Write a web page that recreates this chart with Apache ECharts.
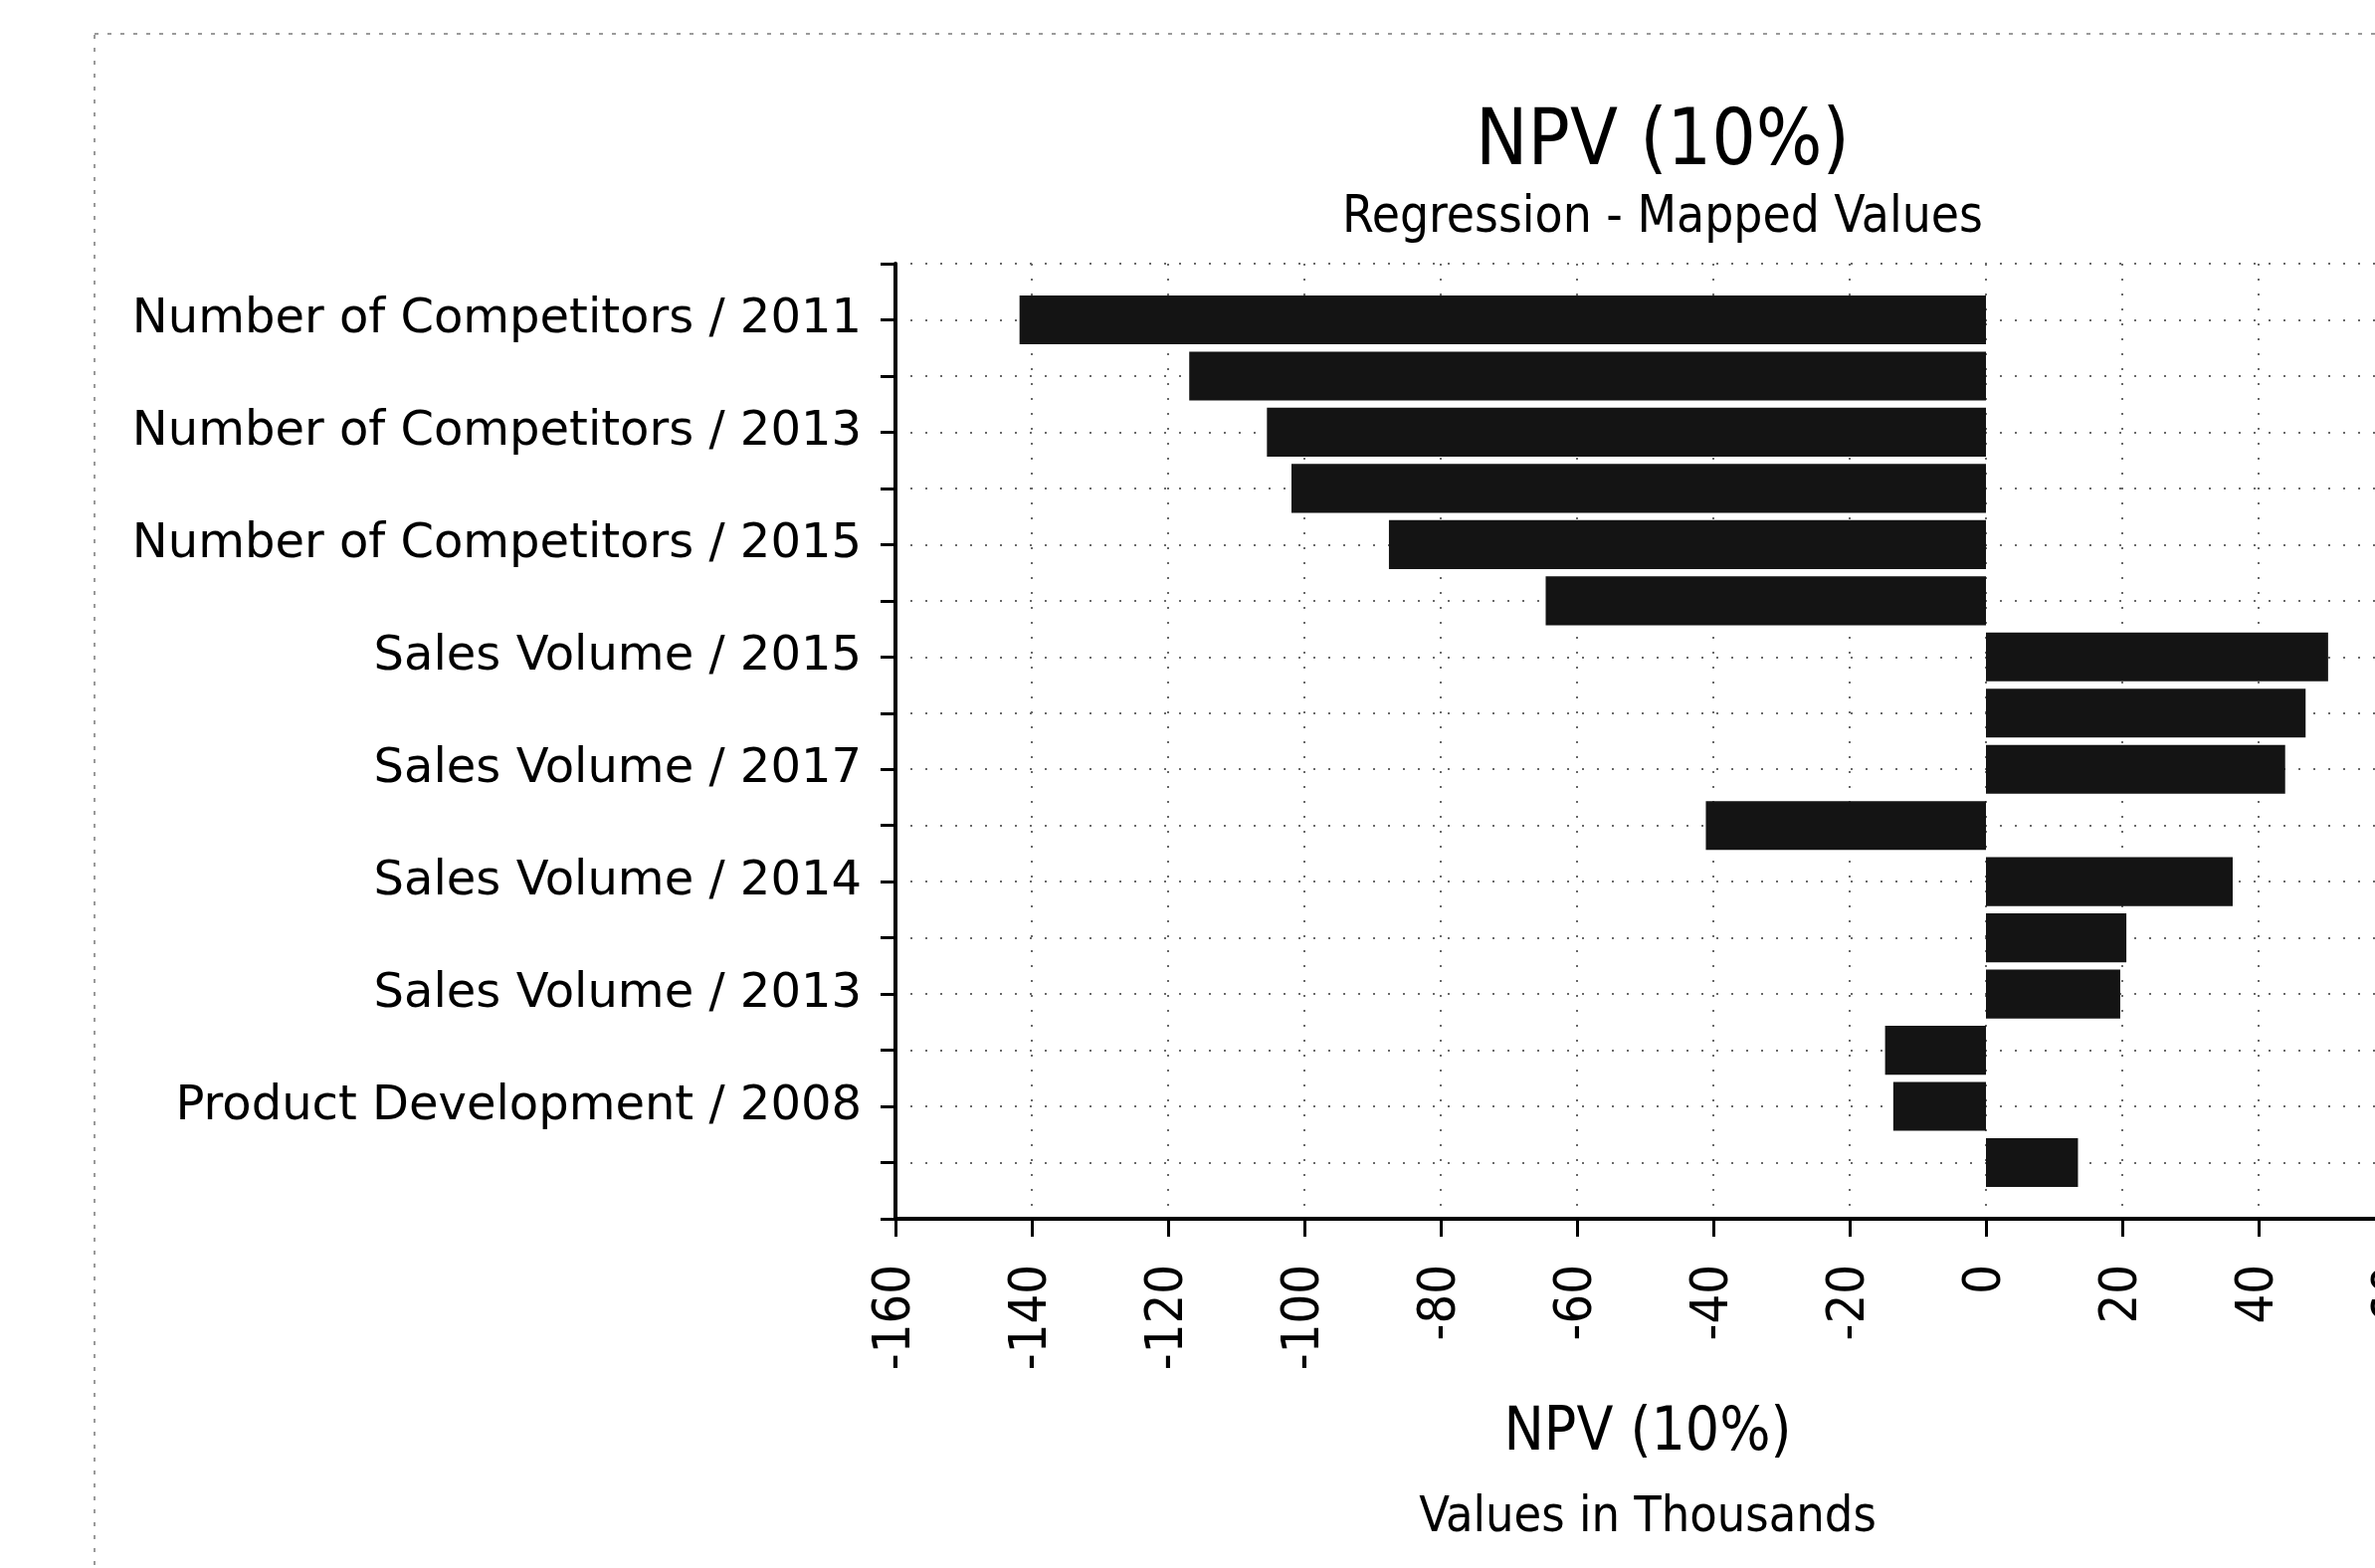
<!DOCTYPE html>
<html>
<head>
<meta charset="utf-8">
<style>
  html, body { margin: 0; padding: 0; background: #ffffff; }
  #chart { width: 2387px; height: 1576px; }
</style>
<script src="https://cdn.jsdelivr.net/npm/echarts@6/dist/echarts.min.js"></script>
</head>
<body>
<div id="chart"></div>
<script>
// ---- data (top to bottom) ----
const categories = [
  'Number of Competitors / 2011',
  'Number of Competitors / 2012',
  'Number of Competitors / 2013',
  'Number of Competitors / 2014',
  'Number of Competitors / 2015',
  'Number of Competitors / 2016',
  'Sales Volume / 2015',
  'Sales Volume / 2016',
  'Sales Volume / 2017',
  'Number of Competitors / 2017',
  'Sales Volume / 2014',
  'Sales Volume / 2012',
  'Sales Volume / 2013',
  'Product Development / 2007',
  'Product Development / 2008',
  'Sales Volume / 2011'
];
const npvValues = [-141.8, -116.9, -105.5, -101.9, -87.6, -64.6, 50.2, 46.9, 43.9, -41.1, 36.2, 20.6, 19.7, -14.8, -13.6, 13.5];
const xTicks = { min: -160, max: 60, interval: 20 };
const titleText = 'NPV (10%)';
const subtitleText = 'Regression - Mapped Values';
const axisTitle = 'NPV (10%)';
const axisSubtitle = 'Values in Thousands';

// padded category axis (one empty slot at each end of the axis)
const axisCats = [' '].concat(categories, ['  ']);
const axisData = [null].concat(npvValues, [null]);

const condensed = '"DejaVu Sans Condensed", "Liberation Sans Narrow", "DejaVu Sans", sans-serif';

const chart = echarts.init(document.getElementById('chart'), null, { renderer: 'canvas' });
chart.setOption({
  backgroundColor: '#ffffff',
  animation: false,
  title: [
    {
      text: titleText,
      subtext: subtitleText,
      left: 1666,
      top: 95,
      textAlign: 'center',
      itemGap: 2,
      textStyle: { fontFamily: condensed, fontSize: 78, fontWeight: 'normal', color: '#000', lineHeight: 90 },
      subtextStyle: { fontFamily: condensed, fontSize: 51, color: '#000', lineHeight: 56 }
    },
    {
      text: axisTitle,
      subtext: axisSubtitle,
      left: 1651,
      top: 1401,
      textAlign: 'center',
      itemGap: 22,
      textStyle: { fontFamily: condensed, fontSize: 60, fontWeight: 'normal', color: '#000', lineHeight: 70 },
      subtextStyle: { fontFamily: condensed, fontSize: 50, color: '#000', lineHeight: 56 }
    }
  ],
  graphic: [
    {
      type: 'rect',
      silent: true,
      shape: { x: 95, y: 34, width: 2400, height: 1600 },
      style: { fill: 'none', stroke: '#9a9a9a', lineWidth: 2, lineDash: [4, 9] }
    }
  ],
  grid: {
    left: 900,
    top: 265,
    width: 1507,
    height: 960,
    containLabel: false,
    outerBoundsMode: 'none'
  },
  xAxis: {
    type: 'value',
    min: xTicks.min,
    max: xTicks.max,
    interval: xTicks.interval,
    axisLine: { show: true, onZero: false, lineStyle: { color: '#000', width: 4 } },
    axisTick: { show: true, length: 18, lineStyle: { color: '#000', width: 3 } },
    axisLabel: {
      rotate: 90,
      margin: 46,
      color: '#000',
      fontFamily: condensed,
      fontSize: 52,
      showMinLabel: true,
      showMaxLabel: true,
      hideOverlap: false
    },
    splitLine: { show: true, lineStyle: { color: '#6a6a6a', width: 2, type: [2, 13] } }
  },
  yAxis: {
    type: 'category',
    inverse: true,
    boundaryGap: false,
    data: axisCats,
    axisLine: { show: true, onZero: false, lineStyle: { color: '#000', width: 4 } },
    axisTick: { show: true, inside: false, length: 15, interval: 0, lineStyle: { color: '#000', width: 3 } },
    axisLabel: {
      interval: function (idx) { return idx % 2 === 1 && idx <= categories.length; },
      margin: 34,
      color: '#000',
      fontFamily: '"DejaVu Sans", Verdana, sans-serif',
      fontSize: 48
    },
    splitLine: { show: true, interval: 0, lineStyle: { color: '#6a6a6a', width: 2, type: [2, 13] } }
  },
  series: [
    {
      type: 'bar',
      data: axisData,
      barCategoryGap: '13%',
      itemStyle: { color: '#141414' },
      silent: true
    }
  ]
});
</script>
</body>
</html>
